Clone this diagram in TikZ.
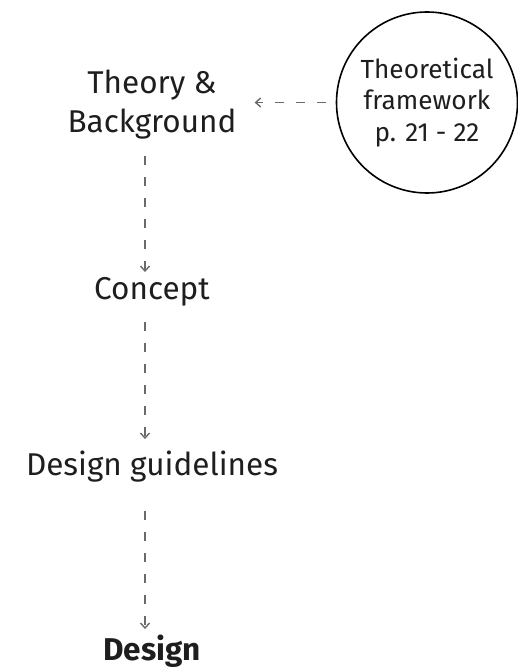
\documentclass[tikz,border=0pt]{standalone}
\usepackage{fontspec}
\setmainfont{Fira Sans}
\usetikzlibrary{arrows.meta}
\definecolor{ink}{HTML}{1E1E1E}
\definecolor{dashgray}{HTML}{6A6A6A}

\begin{document}
\begin{tikzpicture}[
        node distance=180pt,
        stage/.style={inner sep=0pt, text height=21.5pt, text depth=0pt, text=ink, font=\fontsize{31.5}{39}\selectfont},
        twoline/.style={inner sep=0pt, align=center, text=ink, font=\fontsize{31.5}{39}\selectfont},
        ring/.style={circle, draw=black, line width=1.6pt, minimum size=181pt, inner sep=0pt, align=center, text=ink, font=\fontsize{26.2}{31.5}\selectfont},
        flow/.style={dashgray, line width=1.4pt, dash pattern=on 9pt off 12pt, -{Straight Barb[length=5pt,width=9pt]}}
    ]
        \useasboundingbox (0,0) rectangle (518pt,-669pt);

        \node (theory) [twoline] at (152pt,-105pt) {Theory \&\\Background};
        \node (frame) [ring, right of=theory, node distance=275pt, yshift=2.5pt] {Theoretical\\framework\\p. 21 - 22};
        \node (concept) [stage, below of=theory, yshift=-4pt] {Concept};
        \node (guide) [stage, below of=concept, yshift=4pt] {Design guidelines};
        \node (design) [stage, below of=guide, yshift=-5pt, font=\fontsize{31.5}{39}\selectfont\bfseries] {Design};

        \draw [flow, shorten <=10pt, shorten >=18pt] (frame.west) -- (frame.west -| theory.east);
        \draw [flow, shorten <=16pt, shorten >=6pt] ([xshift=-7pt]theory.south) -- ([xshift=-7pt]concept.north);
        \draw [flow, shorten <=22pt, shorten >=15pt] ([xshift=-7pt]concept.south) -- ([xshift=-7pt]guide.north);
        \draw [flow, shorten <=35pt, shorten >=10pt] ([xshift=-7pt]guide.south) -- ([xshift=-7pt]design.north);
    \end{tikzpicture}
\end{document}
